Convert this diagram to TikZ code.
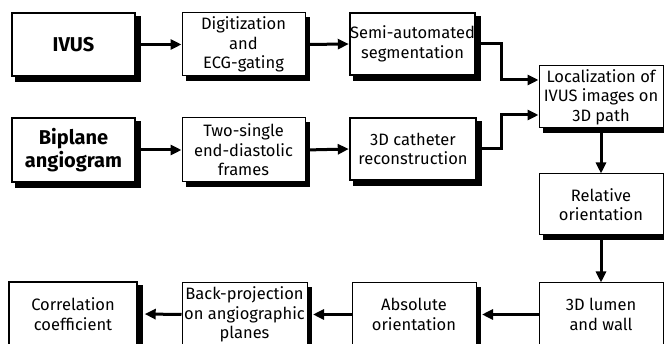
\documentclass[tikz,border=0pt]{standalone}
\usepackage{fontspec}
\setmainfont{Fira Sans}
\usetikzlibrary{arrows.meta,calc}
\begin{document}
\begin{tikzpicture}[x=1pt,y=-1pt,
  box/.style={draw, fill=white, line width=1pt, minimum width=123pt, minimum height=63pt,
    align=center, inner sep=0pt, font=\fontsize{16.5}{19.5}\selectfont},
  thickbox/.style={box, line width=2.4pt},
  sbox/.style={draw=black, fill=black, line width=1pt, minimum width=123pt, minimum height=63pt, inner sep=0pt},
  bigtext/.style={font=\fontsize{20}{23}\selectfont\bfseries},
  arr/.style={line width=3pt, -{Triangle[length=11pt,width=10pt]}},
]
\fill[white] (0,0) rectangle (664,344);
\useasboundingbox (0,0) rectangle (664,344);
% shadows
\node[sbox, line width=2.4pt] (ivus-s) at (78,49) {};
\node[sbox] (dig-s) at (248,49) {};
\node[sbox, line width=2.4pt, minimum width=125pt, minimum height=62pt] (semi-s) at (417,48.5) {};
\node[sbox, minimum width=124pt, minimum height=62pt] (loc-s) at (605.5,101.5) {};
\node[sbox, line width=2.4pt, minimum height=64pt] (bip-s) at (78,154.5) {};
\node[sbox, minimum height=64pt] (two-s) at (248,154.5) {};
\node[sbox, line width=2.4pt, minimum width=126pt, minimum height=62pt] (cat-s) at (417.5,153.5) {};
\node[sbox, minimum width=124pt, minimum height=61pt] (rel-s) at (605.5,209) {};
\node[sbox, minimum width=124pt] (lum-s) at (605.5,319) {};
\node[sbox, minimum width=124pt] (abs-s) at (418.5,319) {};
\node[sbox, minimum width=125pt] (back-s) at (249,319) {};
\node[sbox, line width=2.4pt, minimum width=128pt, minimum height=64pt] (cor-s) at (77.5,318.5) {};
% row 1
\node[thickbox, bigtext] (ivus) at (73.5,44.5) {IVUS};
\node[box] (dig) at (243.5,44.5) {Digitization\\and\\ECG-gating};
\node[thickbox, minimum width=125pt, minimum height=62pt] (semi) at (412.5,44) {Semi-automated\\segmentation};
\node[box, minimum width=124pt, minimum height=62pt] (loc) at (601,97) {Localization of\\IVUS images on\\3D path};
% row 2
\node[thickbox, bigtext, minimum height=64pt] (bip) at (73.5,150) {Biplane\\angiogram};
\node[box, minimum height=64pt] (two) at (243.5,150) {Two-single\\end-diastolic\\frames};
\node[thickbox, minimum width=126pt, minimum height=62pt] (cat) at (413,149) {3D catheter\\reconstruction};
\node[box, minimum width=124pt, minimum height=61pt] (rel) at (601,204.5) {Relative\\orientation};
% row 3
\node[box, minimum width=124pt] (lum) at (601,314.5) {3D lumen\\and wall};
\node[box, minimum width=124pt] (abs) at (414,314.5) {Absolute\\orientation};
\node[box, minimum width=125pt] (back) at (244.5,314.5) {Back-projection\\on angiographic\\planes};
\node[thickbox, minimum width=128pt, minimum height=64pt] (cor) at (73,314) {Correlation\\coefficient};
% connectors
\draw[arr] (ivus.east) -- (dig.west);
\draw[arr] (dig.east) -- (semi.west);
\draw[arr] (bip.east) -- (two.west);
\draw[arr] (two.east) -- (cat.west);
\draw[arr] (semi.east) -- ++(25,0) |- ($(loc.west)+(0,-17)$);
\draw[arr] (cat.east) -- ++(24,0) |- ($(loc.west)+(0,18)$);
\draw[arr] (loc.south) -- (rel.north);
\draw[arr] (rel.south) -- (lum.north);
\draw[arr] (lum.west) -- ([xshift=5.5pt]abs.east);
\draw[arr] (abs.west) -- ([xshift=5.5pt]back.east);
\draw[arr] (back.west) -- ([xshift=6.5pt]cor.east);
\end{tikzpicture}
\end{document}
